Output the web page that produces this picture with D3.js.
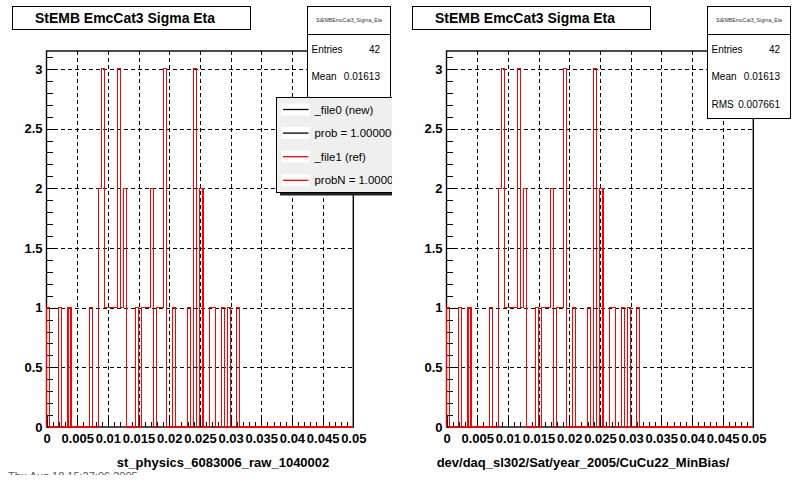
<!DOCTYPE html>
<html>
<head>
<meta charset="utf-8">
<script src="https://cdn.jsdelivr.net/npm/d3@7"></script>
<style>
  html, body { margin: 0; padding: 0; background: #fff; }
  svg { display: block; }
  text { font-family: "Liberation Sans", Arial, Helvetica, sans-serif; }
</style>
</head>
<body>
<svg id="chart" width="800" height="480"></svg>
<script>
// ---- data ----
const histTitle = "StEMB EmcCat3 Sigma Eta";
const histName = "StEMBEmcCat3_Sigma_Eta";
const xMin = 0, xMax = 0.05, nBins = 100;
const counts = [
  1,0,0,0,1,0,0,1,0,0,
  0,0,0,0,1,0,0,2,3,1,
  1,1,1,3,1,2,0,0,0,1,
  0,1,1,1,2,0,1,1,3,0,
  0,1,0,0,0,0,1,0,3,0,
  2,0,0,1,1,0,0,1,0,1,
  0,0,1,0,0,0,0,0,0,0,
  0,0,0,0,0,0,0,0,0,0,
  0,0,0,0,0,0,0,0,0,0,
  0,0,0,0,0,0,0,0,0,0
];
const xMajorTicks = [0,0.005,0.01,0.015,0.02,0.025,0.03,0.035,0.04,0.045,0.05];
const xTickLabels = ["0","0.005","0.01","0.015","0.02","0.025","0.03","0.035","0.04","0.045","0.05"];
const yMajorTicks = [0,0.5,1,1.5,2,2.5,3];
const yTickLabels = ["0","0.5","1","1.5","2","2.5","3"];
const statLabels = ["Entries","Mean","RMS"];
const statValues = ["42","0.01613","0.007661"];
const legendLabels = ["_file0 (new)","prob = 1.000000","_file1 (ref)","probN = 1.000000"];
const legendColors = ["#000000","#000000","#ff0000","#ff0000"];
const panelTitles = ["st_physics_6083006_raw_1040002","dev/daq_sl302/Sat/year_2005/CuCu22_MinBias/"];
const dateStamp = "Thu Aug 18 15:27:06 2005";

// ---- drawing ----
const svg = d3.select("#chart");
const FONT = '"Liberation Sans", Arial, Helvetica, sans-serif';

const defs = svg.append("defs");
defs.append("clipPath").attr("id","clipL").append("rect")
  .attr("x",0).attr("y",0).attr("width",392).attr("height",480);
defs.append("clipPath").attr("id","clipR").append("rect")
  .attr("x",0).attr("y",0).attr("width",400).attr("height",480);
defs.append("clipPath").attr("id","clipDate").append("rect")
  .attr("x",0).attr("y",0).attr("width",400).attr("height",475);

const binW = (xMax - xMin) / nBins;
const edges = d3.range(nBins + 1).map(i => xMin + i * binW);

function drawPanel(offset, idx, withLegend) {
  const g = svg.append("g")
    .attr("transform", `translate(${offset},0)`)
    .attr("clip-path", withLegend ? "url(#clipL)" : "url(#clipR)");

  const fx0 = 46.5, fx1 = 353.3, fy0 = 51, fy1 = 427;
  const x = d3.scaleLinear().domain([xMin, xMax]).range([fx0, fx1]);
  const yMax = d3.max(counts) * 1.05;
  const y = d3.scaleLinear().domain([0, yMax]).range([fy1, fy0]);

  // grid
  const grid = g.append("g").attr("stroke","#000").attr("stroke-width",1)
    .attr("stroke-dasharray","4,3").attr("shape-rendering","crispEdges");
  grid.selectAll("line.vx").data(xMajorTicks.slice(1, -1)).join("line")
    .attr("x1", d => Math.round(x(d)) + 0.5).attr("x2", d => Math.round(x(d)) + 0.5)
    .attr("y1", fy0).attr("y2", fy1);
  grid.selectAll("line.hy").data(yMajorTicks.slice(1)).join("line")
    .attr("x1", fx0).attr("x2", fx1)
    .attr("y1", d => Math.round(y(d)) + 0.5).attr("y2", d => Math.round(y(d)) + 0.5);

  // frame
  g.append("rect").attr("x", fx0).attr("y", fy0)
    .attr("width", fx1 - fx0).attr("height", fy1 - fy0)
    .attr("fill","none").attr("stroke","#000").attr("stroke-width",1.4);

  // axes
  const xMinor = d3.range(0, 51).map(i => i * 0.001);
  const axMinor = g.append("g").attr("transform", `translate(0,${fy1})`)
    .call(d3.axisBottom(x).tickValues(xMinor).tickSize(-5).tickFormat(""));
  const axX = g.append("g").attr("transform", `translate(0,${fy1})`)
    .call(d3.axisBottom(x).tickValues(xMajorTicks).tickSize(-11).tickPadding(7)
      .tickFormat((d, i) => xTickLabels[i]));
  const yMinor = d3.range(0, 32).map(i => i * 0.1);
  const ayMinor = g.append("g").attr("transform", `translate(${fx0},0)`)
    .call(d3.axisLeft(y).tickValues(yMinor).tickSize(-6).tickFormat(""));
  const axY = g.append("g").attr("transform", `translate(${fx0},0)`)
    .call(d3.axisLeft(y).tickValues(yMajorTicks).tickSize(-10).tickPadding(4)
      .tickFormat((d, i) => yTickLabels[i]));
  [axMinor, axX, ayMinor, axY].forEach(a => {
    a.select(".domain").remove();
    a.selectAll("line").attr("stroke","#000").attr("stroke-width",1).attr("shape-rendering","crispEdges");
    a.selectAll("text").attr("fill","#000").attr("font-family",FONT)
      .attr("font-weight","bold").attr("font-size",13);
  });

  // histogram (reference drawn in red, fully covering the identical new one)
  const pts = [[edges[0], 0]];
  counts.forEach((c, i) => pts.push([edges[i], c]));
  pts.push([edges[nBins], 0]);
  const line = d3.line().x(d => x(d[0])).y(d => y(d[1])).curve(d3.curveStepAfter);
  g.append("path").attr("d", line(pts)).attr("fill","none")
    .attr("stroke","#ff0000").attr("stroke-width",1.1).attr("shape-rendering","crispEdges");

  // title box
  g.append("rect").attr("x",12.5).attr("y",6.5).attr("width",238).attr("height",23)
    .attr("fill","#fff").attr("stroke","#000").attr("stroke-width",1);
  g.append("text").attr("x",35).attr("y",22.5)
    .attr("font-size",14).attr("font-weight","bold").attr("fill","#000")
    .attr("textLength",180).attr("lengthAdjust","spacingAndGlyphs")
    .text(histTitle);

  // stats box
  const sb = g.append("g");
  sb.append("rect").attr("x",307.5).attr("y",6.5).attr("width",83).attr("height",112)
    .attr("fill","#fff").attr("stroke","#000").attr("stroke-width",1);
  sb.append("line").attr("x1",307.5).attr("x2",390.5).attr("y1",34.5).attr("y2",34.5)
    .attr("stroke","#000").attr("stroke-width",1);
  sb.append("text").attr("x",349).attr("y",21.5).attr("text-anchor","middle")
    .attr("font-size",5.5).attr("fill","#333")
    .attr("textLength",66).attr("lengthAdjust","spacingAndGlyphs").text(histName);
  const legendTop = 97.5;
  statLabels.forEach((lab, i) => {
    const yy = 52.5 + i * 27.6;
    if (withLegend && yy - 8 > legendTop) return; // row hidden under the legend
    sb.append("text").attr("x",311.5).attr("y",yy).attr("font-size",10).attr("fill","#000").text(lab);
    sb.append("text").attr("x",380).attr("y",yy).attr("text-anchor","end")
      .attr("font-size",10).attr("fill","#000").text(statValues[i]);
  });

  // legend
  if (withLegend) {
    const lg = g.append("g");
    lg.append("rect").attr("x",280).attr("y",100.5).attr("width",130).attr("height",95)
      .attr("fill","#222");
    lg.append("rect").attr("x",276.5).attr("y",legendTop).attr("width",130).attr("height",95)
      .attr("fill","#efefef").attr("stroke","#000").attr("stroke-width",1);
    legendLabels.forEach((lab, i) => {
      const yy = 109.5 + i * 23.6;
      lg.append("rect").attr("x",281.5).attr("y",yy - 6).attr("width",28).attr("height",12).attr("fill","#fff");
      lg.append("line").attr("x1",283).attr("x2",308.5).attr("y1",yy).attr("y2",yy)
        .attr("stroke",legendColors[i]).attr("stroke-width",1.3);
      lg.append("text").attr("x",314.5).attr("y",yy + 4).attr("font-size",11.4).attr("fill","#000").text(lab);
    });
  }

  // x title (right-aligned)
  g.append("text").attr("x", fx1 - 24).attr("y",466.5).attr("text-anchor","end")
    .attr("font-size",13).attr("font-weight","bold").attr("fill","#000")
    .text(panelTitles[idx]);
}

drawPanel(0, 0, true);
drawPanel(400, 1, false);

svg.append("g").attr("clip-path","url(#clipDate)")
  .append("text").attr("x",8).attr("y",480).attr("font-size",11).attr("fill","#555")
  .attr("font-family",FONT).text(dateStamp);
</script>
</body>
</html>
